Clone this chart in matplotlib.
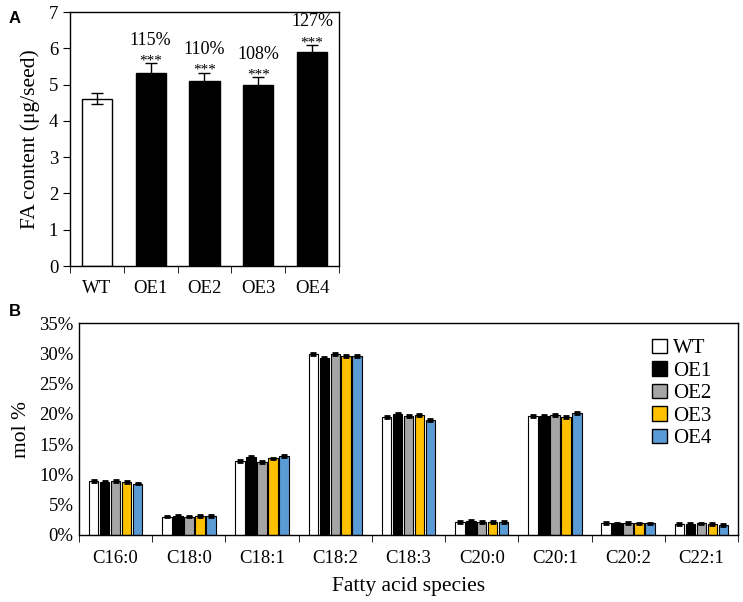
import numpy as np
import matplotlib
matplotlib.use("Agg")
import matplotlib.pyplot as plt
from matplotlib.patches import Patch

# panel A data
linesA = ['WT', 'OE1', 'OE2', 'OE3', 'OE4']
fa_content = [4.61, 5.32, 5.11, 4.98, 5.90]
fa_err = [0.15, 0.27, 0.22, 0.22, 0.20]
pct_labels = ['', '115%', '110%', '108%', '127%']
stars = ['', '***', '***', '***', '***']

# panel B data
species = ['C16:0', 'C18:0', 'C18:1', 'C18:2', 'C18:3', 'C20:0', 'C20:1', 'C20:2', 'C22:1']
wt = [8.95, 3.05, 12.2, 29.95, 19.5, 2.1, 19.6, 2.0, 1.8]
oe1 = [8.8, 3.2, 12.9, 29.25, 19.95, 2.3, 19.7, 1.9, 1.8]
oe2 = [8.9, 3.05, 12.05, 29.9, 19.6, 2.1, 19.85, 2.0, 1.9]
oe3 = [8.7, 3.15, 12.65, 29.5, 19.8, 2.2, 19.5, 1.9, 1.8]
oe4 = [8.5, 3.15, 13.0, 29.6, 19.05, 2.1, 20.2, 1.9, 1.7]
err_b = 0.15
colors = ['white', 'black', '#A5A5A5', '#FFC000', '#5B9BD5']

plt.rcParams['font.family'] = ['Liberation Serif', 'DejaVu Serif']

fig = plt.figure(figsize=(7.43, 6.02), dpi=100)

# ---- panel A
axA = fig.add_axes([0.0942, 0.558, 0.362, 0.422])
x = np.arange(len(linesA))
facesA = ['white'] + ['black'] * 4
axA.bar(x, fa_content, width=0.56, color=facesA, edgecolor='black', linewidth=1.0,
        yerr=fa_err, error_kw=dict(ecolor='black', elinewidth=1.0, capsize=4, capthick=1.0))
for i in range(len(linesA)):
    if stars[i]:
        top = fa_content[i] + fa_err[i]
        axA.text(x[i], top - 0.12, stars[i], ha='center', va='bottom', fontsize=11)
        axA.text(x[i], top + 0.4, pct_labels[i], ha='center', va='bottom', fontsize=13)
axA.set_xlim(-0.5, len(linesA) - 0.5)
axA.set_ylim(0, 7)
axA.set_yticks(range(8))
axA.set_xticks(x)
axA.set_xticklabels(linesA)
axA.set_xticks(np.arange(-0.5, len(linesA)), minor=True)
axA.tick_params(axis='x', which='major', length=0, labelsize=13.5, pad=10)
axA.tick_params(axis='x', which='minor', length=5, direction='out')
axA.tick_params(axis='y', labelsize=13.5, length=5, direction='out')
axA.set_ylabel('FA content (μg/seed)', fontsize=15.5, labelpad=6)
for s in axA.spines.values():
    s.set_linewidth(1.0)

# ---- panel B
axB = fig.add_axes([0.1063, 0.1113, 0.887, 0.352])
xb = np.arange(len(species))
series = [wt, oe1, oe2, oe3, oe4]
names = ['WT', 'OE1', 'OE2', 'OE3', 'OE4']
step = 0.15
for k, vals in enumerate(series):
    axB.bar(xb + (k - 2) * step, vals, width=0.13, color=colors[k], edgecolor='black',
            linewidth=0.8, yerr=err_b,
            error_kw=dict(ecolor='black', elinewidth=1.0, capsize=2.5, capthick=2.0))
axB.set_xlim(-0.5, len(species) - 0.5)
axB.set_ylim(0, 35)
yt = np.arange(0, 36, 5)
axB.set_yticks(yt)
axB.set_yticklabels([f'{v}%' for v in yt])
axB.set_xticks(xb)
axB.set_xticklabels(species)
axB.set_xticks(np.arange(-0.5, len(species)), minor=True)
axB.tick_params(axis='x', which='major', length=0, labelsize=13.5, pad=11)
axB.tick_params(axis='x', which='minor', length=5, direction='out')
axB.tick_params(axis='y', labelsize=13.5, length=0, pad=4)
axB.set_ylabel('mol %', fontsize=15.5, labelpad=6)
axB.set_xlabel('Fatty acid species', fontsize=15.5, labelpad=7)
for s in axB.spines.values():
    s.set_linewidth(1.0)

handles = [Patch(facecolor=c, edgecolor='black', linewidth=1.0) for c in colors]
axB.legend(handles, names, loc='upper right', bbox_to_anchor=(0.972, 0.965), frameon=False,
           fontsize=15, handlelength=0.7, handleheight=0.7, handletextpad=0.3,
           labelspacing=0.14, borderaxespad=0)

# panel letters
fig.text(0.012, 0.962, 'A', fontsize=12, fontweight='bold', family='Liberation Sans')
fig.text(0.012, 0.475, 'B', fontsize=12, fontweight='bold', family='Liberation Sans')

fig.savefig('out.png', dpi=100)
